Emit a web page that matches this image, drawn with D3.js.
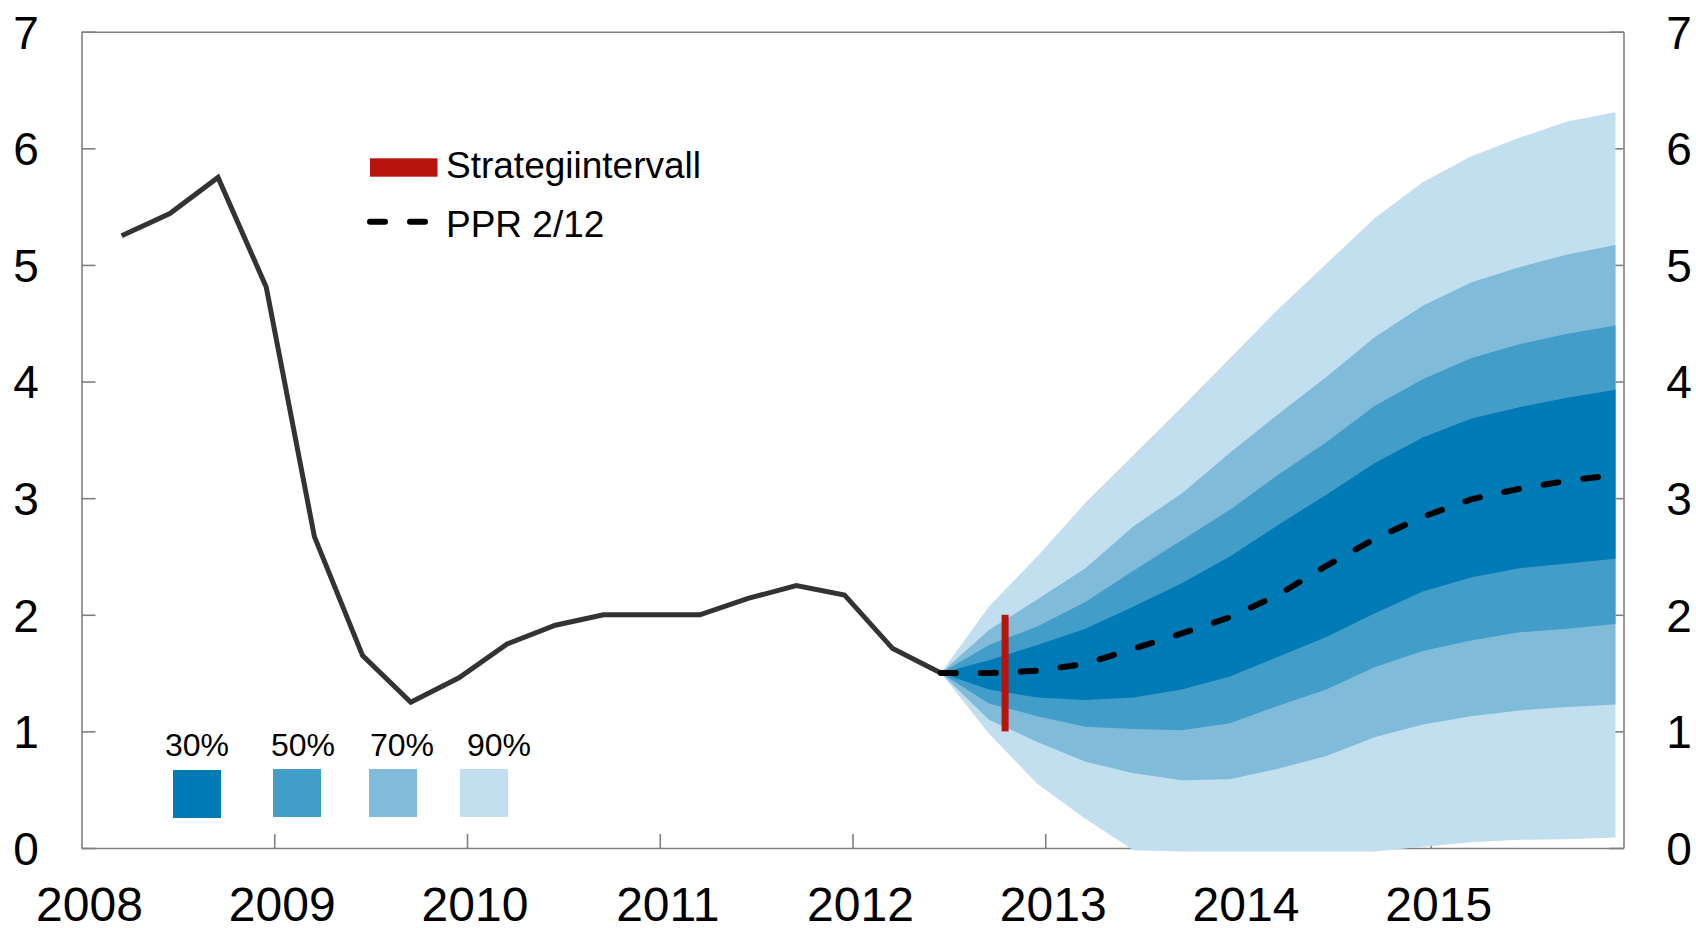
<!DOCTYPE html>
<html>
<head>
<meta charset="utf-8">
<script src="https://cdn.jsdelivr.net/npm/d3@7"></script>
<style>
  body { margin: 0; background: #fff; }
  svg { display: block; font-family: "Liberation Sans", Arial, sans-serif; }
  .axis path, .axis line { stroke: #808080; stroke-width: 1.6; }
  .axis text { fill: #000; }
</style>
</head>
<body>
<div id="chart"></div>
<script>
// Policy rate, quarterly (historical)
const histQuarters = ['2008Q1', '2008Q2', '2008Q3', '2008Q4', '2009Q1', '2009Q2', '2009Q3', '2009Q4',
    '2010Q1', '2010Q2', '2010Q3', '2010Q4', '2011Q1', '2011Q2', '2011Q3', '2011Q4', '2012Q1', '2012Q2'];
const histRate = [5.25, 5.44, 5.75, 4.81, 2.67, 1.65, 1.25, 1.46, 1.75, 1.91, 2.00, 2.00, 2.00, 2.14, 2.25, 2.17, 1.71, 1.50];

// PPR 2/12 forecast and fan
const fanQuarters = ['2012Q2', '2012Q3', '2012Q4', '2013Q1', '2013Q2', '2013Q3', '2013Q4', '2014Q1',
    '2014Q2', '2014Q3', '2014Q4', '2015Q1', '2015Q2', '2015Q3', '2015Q4'];
const ppr = [1.50, 1.50, 1.52, 1.58, 1.71, 1.84, 1.98, 2.17, 2.42, 2.65, 2.84, 2.99, 3.08, 3.15, 3.20];
const upper90 = [1.50, 2.07, 2.50, 2.96, 3.37, 3.78, 4.20, 4.62, 5.01, 5.40, 5.71, 5.93, 6.09, 6.23, 6.31];
const upper70 = [1.50, 1.87, 2.13, 2.40, 2.76, 3.04, 3.39, 3.72, 4.04, 4.38, 4.65, 4.85, 4.98, 5.09, 5.17];
const upper50 = [1.50, 1.74, 1.90, 2.11, 2.38, 2.64, 2.90, 3.20, 3.48, 3.79, 4.02, 4.20, 4.32, 4.41, 4.48];
const upper30 = [1.50, 1.61, 1.74, 1.88, 2.07, 2.27, 2.50, 2.77, 3.03, 3.30, 3.52, 3.68, 3.78, 3.86, 3.93];
const lower30 = [1.50, 1.36, 1.29, 1.27, 1.29, 1.36, 1.47, 1.64, 1.81, 2.01, 2.20, 2.32, 2.40, 2.44, 2.48];
const lower50 = [1.50, 1.24, 1.13, 1.04, 1.02, 1.01, 1.07, 1.22, 1.36, 1.55, 1.69, 1.78, 1.85, 1.88, 1.92];
const lower70 = [1.50, 1.10, 0.91, 0.74, 0.64, 0.58, 0.59, 0.68, 0.79, 0.95, 1.06, 1.13, 1.18, 1.21, 1.23];
const lower90 = [1.50, 0.98, 0.55, 0.25, -0.02, -0.03, -0.03, -0.03, -0.03, -0.03, 0.01, 0.05, 0.07, 0.075, 0.09];

// Strategy interval (month, low, high)
const strategyMonth = '2012-10';
const strategyRange = [1, 2];

const fanLabels = ['30%', '50%', '70%', '90%'];
const fanColors = ['#007bb6', '#429dc9', '#80bcda', '#c1dfee'];
const legendLabels = ['Strategiintervall', 'PPR 2/12'];

const xTicks = [2009, 2010, 2011, 2012, 2013, 2014, 2015];
const xLabels = [2008, 2009, 2010, 2011, 2012, 2013, 2014, 2015];
const yTicks = [0, 1, 2, 3, 4, 5, 6, 7];

const outerWidth = 1696;
const outerHeight = 928;

// quarters are plotted at mid-month of the last month in the quarter
const quarterTime = (s) => +s.slice(0, 4) + (3 * +s.slice(5) - 0.5) / 12;
const monthTime = (s) => +s.slice(0, 4) + (+s.slice(5) - 0.5) / 12;

const svg = d3.select('#chart').append('svg')
    .attr('width', outerWidth)
    .attr('height', outerHeight);

const x = d3.scaleLinear().domain([2008, 2016]).range([81.5, 1623.5]);
const y = d3.scaleLinear().domain([0, 7]).range([848, 31.7]);

// Frame + axes
svg.append('g').attr('class', 'axis')
    .attr('transform', `translate(0, ${y(0)})`)
    .call(d3.axisBottom(x).tickValues(xTicks).tickSizeInner(-14).tickSizeOuter(0).tickFormat(''));

svg.append('g').attr('class', 'axis')
    .attr('transform', `translate(0, ${y(7)})`)
    .call(d3.axisTop(x).tickValues([]).tickSizeOuter(0));

const gyl = svg.append('g').attr('class', 'axis')
    .attr('transform', `translate(${x(2008)}, 0)`)
    .call(d3.axisLeft(y).tickValues(yTicks).tickFormat(d3.format('d')).tickSizeInner(-14).tickSizeOuter(0));
gyl.selectAll('text')
    .attr('x', -55.5).attr('dy', '0.355em')
    .attr('text-anchor', 'middle').style('font-size', '46px');

const gyr = svg.append('g').attr('class', 'axis')
    .attr('transform', `translate(${x(2016)}, 0)`)
    .call(d3.axisRight(y).tickValues(yTicks).tickFormat(d3.format('d')).tickSizeInner(-14).tickSizeOuter(0));
gyr.selectAll('text')
    .attr('x', 55.5).attr('dy', '0.355em')
    .attr('text-anchor', 'middle').style('font-size', '46px');

// year labels, a bit right of the tick
svg.append('g').selectAll('text')
    .data(xLabels)
    .join('text')
    .attr('x', d => x(d) + 8)
    .attr('y', y(0) + 73)
    .attr('text-anchor', 'middle')
    .style('font-size', '48px')
    .text(d => d);

// Fan chart
const fanT = fanQuarters.map(quarterTime);
const bands = [
    { lo: lower90, hi: upper90, color: fanColors[3] },
    { lo: lower70, hi: upper70, color: fanColors[2] },
    { lo: lower50, hi: upper50, color: fanColors[1] },
    { lo: lower30, hi: upper30, color: fanColors[0] }
];
const area = d3.area()
    .x((d, i) => x(fanT[i]))
    .y0(d => y(d[0]))
    .y1(d => y(d[1]));

svg.append('g').selectAll('path')
    .data(bands)
    .join('path')
    .attr('d', b => area(b.lo.map((v, i) => [v, b.hi[i]])))
    .attr('fill', b => b.color);

// Historical line
const histT = histQuarters.map(quarterTime);
svg.append('path')
    .datum(histRate)
    .attr('d', d3.line().x((d, i) => x(histT[i])).y(d => y(d)))
    .attr('fill', 'none')
    .attr('stroke', '#333333')
    .attr('stroke-width', 5)
    .attr('stroke-linejoin', 'miter');

// PPR 2/12
svg.append('path')
    .datum(ppr)
    .attr('d', d3.line().x((d, i) => x(fanT[i])).y(d => y(d)))
    .attr('fill', 'none')
    .attr('stroke', '#000')
    .attr('stroke-width', 6)
    .attr('stroke-linecap', 'round')
    .attr('stroke-dasharray', '15,25');

// Strategy interval
const st = monthTime(strategyMonth);
svg.append('rect')
    .attr('x', x(st) - 3.5)
    .attr('y', y(strategyRange[1]))
    .attr('width', 7)
    .attr('height', y(strategyRange[0]) - y(strategyRange[1]))
    .attr('fill', '#b8140c');

// Legend (top)
const legend = svg.append('g');
legend.append('rect')
    .attr('x', 370).attr('y', 158.3)
    .attr('width', 67.5).attr('height', 18.4)
    .attr('fill', '#b8140c');
legend.append('line')
    .attr('x1', 370).attr('x2', 432)
    .attr('y1', 221.7).attr('y2', 221.7)
    .attr('stroke', '#000').attr('stroke-width', 6)
    .attr('stroke-linecap', 'round').attr('stroke-dasharray', '15,25');
legend.selectAll('text')
    .data(legendLabels)
    .join('text')
    .attr('x', 446)
    .attr('y', (d, i) => i === 0 ? 178 : 237)
    .style('font-size', '37px')
    .text(d => d);

// Fan legend (bottom left)
const swatchX = [173, 273, 369, 460];
const labelX = [197, 303, 402, 499];
const fanLegend = svg.append('g');
fanLegend.selectAll('rect')
    .data(fanLabels)
    .join('rect')
    .attr('x', (d, i) => swatchX[i])
    .attr('y', (d, i) => i === 0 ? 770 : 769)
    .attr('width', 48).attr('height', 48)
    .attr('fill', (d, i) => fanColors[i]);
fanLegend.selectAll('text')
    .data(fanLabels)
    .join('text')
    .attr('x', (d, i) => labelX[i])
    .attr('y', 755.7)
    .attr('text-anchor', 'middle')
    .style('font-size', '32px')
    .text(d => d);
</script>
</body>
</html>
